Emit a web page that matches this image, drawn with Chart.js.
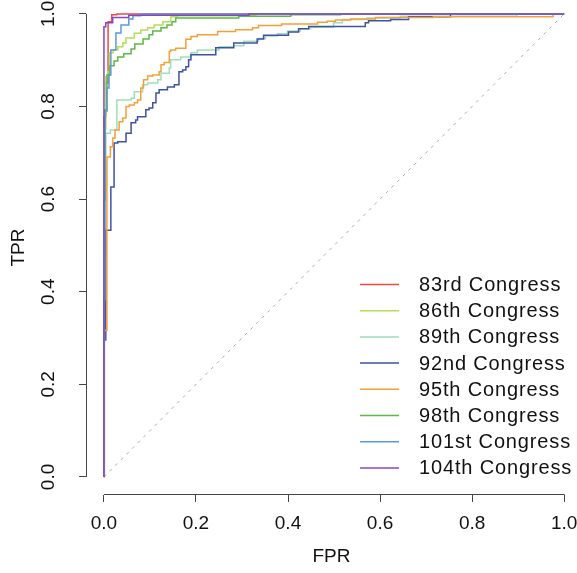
<!DOCTYPE html>
<html>
<head>
<meta charset="utf-8">
<script src="https://cdn.jsdelivr.net/npm/chart.js@4.4.0/dist/chart.umd.min.js"></script>
<style>
  html, body { margin: 0; padding: 0; background: #fff; }
  #wrap { width: 577px; height: 573px; }
</style>
</head>
<body>
<div id="wrap"><canvas id="roc"></canvas></div>
<script>
// ROC corner points (FPR, TPR) for each congress
const labels = ['83rd Congress', '86th Congress', '89th Congress', '92nd Congress',
                '95th Congress', '98th Congress', '101st Congress', '104th Congress'];
const colors = ['#EA4B44', '#B5DE5A', '#9EDFB8', '#3F51A3',
                '#F4A037', '#5CB848', '#5A9BD8', '#8448C0'];

const fpr83 = [0, 0, 0.004, 0.009, 0.017, 0.028, 1];
const tpr83 = [0, 0.778, 0.851, 0.983, 0.998, 1, 1];

const fpr86 = [0, 0, 0.004, 0.008, 0.012, 0.020, 0.030, 0.041, 0.048, 0.066, 0.080, 0.095, 0.109, 0.128, 0.145, 0.160, 0.330, 1];
const tpr86 = [0, 0.752, 0.864, 0.875, 0.916, 0.922, 0.929, 0.937, 0.948, 0.958, 0.965, 0.970, 0.976, 0.983, 0.994, 0.996, 1, 1];

const fpr89 = [0, 0, 0.004, 0.014, 0.028, 0.059, 0.066, 0.084, 0.095, 0.117, 0.124, 0.142, 0.145, 0.167, 0.189, 0.203, 0.250, 0.282, 0.304, 0.336, 0.351, 0.377, 0.399, 0.427, 0.449, 0.499, 0.518, 0.572, 0.644, 0.897, 1];
const tpr89 = [0, 0.484, 0.742, 0.749, 0.814, 0.818, 0.832, 0.847, 0.851, 0.858, 0.872, 0.883, 0.901, 0.907, 0.916, 0.922, 0.929, 0.931, 0.941, 0.947, 0.952, 0.957, 0.963, 0.968, 0.971, 0.981, 0.988, 0.991, 0.995, 1, 1];

const fpr92 = [0, 0, 0.004, 0.015, 0.022, 0.030, 0.048, 0.059, 0.069, 0.073, 0.091, 0.098, 0.106, 0.113, 0.120, 0.138, 0.153, 0.163, 0.171, 0.178, 0.184, 0.189, 0.243, 0.282, 0.333, 0.347, 0.401, 0.423, 0.445, 0.568, 0.575, 0.623, 0.662, 0.753, 1];
const tpr92 = [0, 0.296, 0.533, 0.626, 0.721, 0.724, 0.742, 0.765, 0.771, 0.778, 0.793, 0.797, 0.808, 0.829, 0.836, 0.842, 0.847, 0.875, 0.879, 0.886, 0.901, 0.912, 0.927, 0.937, 0.946, 0.954, 0.961, 0.968, 0.973, 0.981, 0.985, 0.988, 0.994, 1, 1];

const fpr95 = [0, 0.001, 0.0065, 0.014, 0.019, 0.024, 0.033, 0.041, 0.048, 0.055, 0.066, 0.073, 0.080, 0.086, 0.095, 0.106, 0.120, 0.124, 0.131, 0.142, 0.145, 0.156, 0.178, 0.189, 0.203, 0.247, 0.286, 0.323, 0.336, 0.386, 0.464, 0.485, 0.503, 0.536, 0.590, 0.716, 0.976, 1];
const tpr95 = [0, 0.317, 0.691, 0.713, 0.732, 0.749, 0.767, 0.775, 0.800, 0.803, 0.808, 0.814, 0.840, 0.858, 0.866, 0.868, 0.875, 0.890, 0.895, 0.919, 0.922, 0.926, 0.945, 0.951, 0.955, 0.962, 0.966, 0.970, 0.975, 0.978, 0.982, 0.984, 0.987, 0.989, 0.992, 0.994, 1, 1];

const fpr98 = [0, 0, 0.003, 0.0065, 0.013, 0.022, 0.030, 0.043, 0.059, 0.067, 0.085, 0.098, 0.106, 0.124, 0.137, 0.148, 0.156, 0.293, 0.406, 0.514, 1];
const tpr98 = [0, 0.598, 0.790, 0.868, 0.888, 0.898, 0.907, 0.914, 0.924, 0.935, 0.946, 0.955, 0.963, 0.970, 0.976, 0.983, 0.991, 0.995, 0.998, 1, 1];

const fpr101 = [0, 0, 0.002, 0.0065, 0.011, 0.015, 0.026, 0.037, 0.054, 0.063, 0.080, 1];
const tpr101 = [0, 0.382, 0.793, 0.840, 0.868, 0.922, 0.959, 0.976, 0.989, 0.996, 1, 1];

const fpr104 = [0, 0, 0.004, 0.019, 0.054, 0.315, 1];
const tpr104 = [0, 0.972, 0.981, 0.992, 0.997, 1, 1];

const diagFpr = [0, 1];
const diagTpr = [0, 1];

const xTicks = [0, 0.2, 0.4, 0.6, 0.8, 1];
const yTicks = [0, 0.2, 0.4, 0.6, 0.8, 1];

const curves = [
  [fpr83, tpr83], [fpr86, tpr86], [fpr89, tpr89], [fpr92, tpr92],
  [fpr95, tpr95], [fpr98, tpr98], [fpr101, tpr101], [fpr104, tpr104]
];

const FONT = { family: '"Liberation Sans", Arial, sans-serif', size: 19 };

function toPoints(xs, ys) {
  return xs.map((x, i) => ({ x: x, y: ys[i] }));
}

// 'before' = go across first, then up: ROC staircase through the corner points
const datasets = curves.map((c, i) => ({
  label: labels[i],
  data: toPoints(c[0], c[1]),
  borderColor: colors[i],
  borderWidth: 1.5,
  stepped: 'before',
  pointRadius: 0,
  fill: false,
  order: curves.length - i   // later congresses drawn on top, like R
}));

datasets.push({
  label: 'chance',
  data: toPoints(diagFpr, diagTpr),
  borderColor: '#AAAAAA',
  borderWidth: 1,
  borderDash: [3, 5],
  pointRadius: 0,
  fill: false,
  order: 99
});

// R style axes (line only from first to last tick) and legend
const rStyle = {
  id: 'rStyle',
  afterDraw(chart) {
    const { ctx, scales: { x, y } } = chart;
    ctx.save();
    ctx.strokeStyle = '#444';
    ctx.lineWidth = 1;
    ctx.beginPath();
    ctx.moveTo(x.getPixelForValue(0), Math.round(y.bottom) - 0.5);
    ctx.lineTo(x.getPixelForValue(1) + 0.5, Math.round(y.bottom) - 0.5);
    ctx.moveTo(Math.round(x.left) + 0.5, y.getPixelForValue(0));
    ctx.lineTo(Math.round(x.left) + 0.5, y.getPixelForValue(1));
    ctx.stroke();

    // legend
    ctx.font = '20px ' + FONT.family;
    ctx.letterSpacing = '0.85px';
    ctx.textBaseline = 'middle';
    ctx.textAlign = 'left';
    labels.forEach((lab, i) => {
      const ry = 284.5 + i * 26.2;
      ctx.strokeStyle = colors[i];
      ctx.lineWidth = 1.5;
      ctx.beginPath();
      ctx.moveTo(360, ry);
      ctx.lineTo(399, ry);
      ctx.stroke();
      ctx.fillStyle = '#111';
      ctx.fillText(lab, 419, ry + 1);
    });
    ctx.restore();
  }
};

new Chart(document.getElementById('roc'), {
  type: 'line',
  data: { datasets: datasets },
  options: {
    animation: false,
    responsive: true,
    maintainAspectRatio: false,
    layout: { padding: 0 },
    plugins: { legend: { display: false }, tooltip: { enabled: false } },
    scales: {
      x: {
        type: 'linear',
        min: -0.039,
        max: 1.028,
        afterBuildTicks: s => { s.ticks = xTicks.map(v => ({ value: v })); },
        afterFit: s => { s.height = 78; s.paddingLeft = 0; s.paddingRight = 0; },
        grid: { drawOnChartArea: false, tickLength: 7, color: '#444' },
        border: { display: false },
        ticks: { font: FONT, color: '#111', padding: 10, maxRotation: 0, autoSkip: false,
                 callback: v => Number(v).toFixed(1) },
        title: { display: true, text: 'FPR', font: FONT, color: '#111', padding: { top: 0, bottom: 5 } }
      },
      y: {
        type: 'linear',
        min: -0.039,
        max: 1.030,
        afterBuildTicks: s => { s.ticks = yTicks.map(v => ({ value: v })); },
        afterFit: s => { s.width = 86; s.paddingTop = 0; s.paddingBottom = 0; },
        grid: { drawOnChartArea: false, tickLength: 7, color: '#444' },
        border: { display: false },
        ticks: { font: FONT, color: '#111', padding: 17, minRotation: 90, maxRotation: 90,
                 crossAlign: 'center', autoSkip: false,
                 callback: v => Number(v).toFixed(1) },
        title: { display: true, text: 'TPR', font: FONT, color: '#111', padding: { top: 7, bottom: 0 } }
      }
    }
  },
  plugins: [rStyle]
});
</script>
</body>
</html>
